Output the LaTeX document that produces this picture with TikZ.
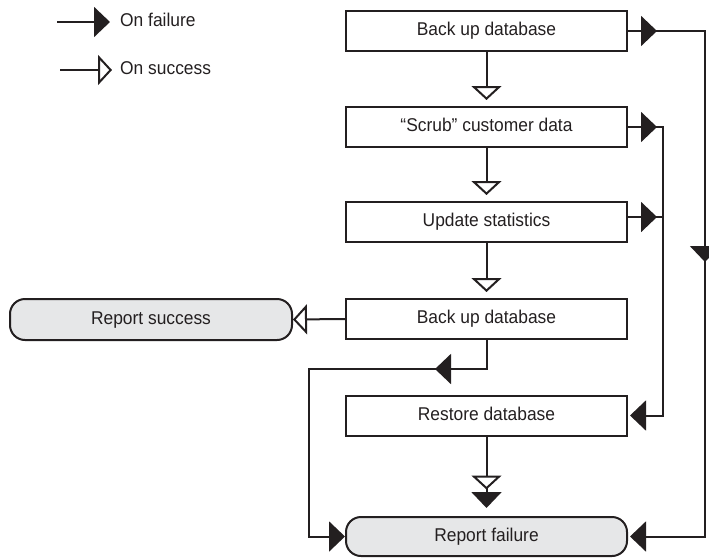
\documentclass[tikz,border=0pt]{standalone}
\usepackage{fontspec}
\setmainfont{Liberation Sans}[FakeStretch=0.94]
\usetikzlibrary{arrows.meta,decorations.markings}
\definecolor{ink}{HTML}{231F20}
\definecolor{pale}{HTML}{E6E7E8}
\tikzset{
  FailTip/.tip={Triangle[length=16pt,width=30pt]},
  OkTip/.tip={Triangle[open,length=14pt,width=30pt,fill=white]},
  every node/.style={font=\fontsize{18.5}{22}\selectfont, text=ink},
  stepbox/.style={draw=ink, line width=2pt, minimum width=281pt, minimum height=40pt,
    inner sep=0pt, text height=13.5pt, text depth=4pt},
  endbox/.style={stepbox, fill=pale, rounded corners=15pt},
  conn/.style={color=ink, line width=2pt},
  failmark/.style={postaction={decorate, decoration={markings,
    mark=at position #1 with {\arrow{FailTip}}}}},
  okmark/.style={postaction={decorate, decoration={markings,
    mark=at position #1 with {\arrow{OkTip}}}}},
  legtext/.style={anchor=west, inner sep=0pt, text height=13.5pt, text depth=4pt}
}
\begin{document}
\begin{tikzpicture}[x=1pt,y=-1pt]
\useasboundingbox (0,0) rectangle (709,557);

% legend
\coordinate (lfA) at (57,22);
\coordinate (lfB) at (110,22);
\coordinate (lsA) at (60,70);
\coordinate (lsB) at (112,70);
\draw[conn,-{FailTip}] (lfA) -- (lfB);
\draw[conn,-{OkTip}] (lsA) -- (lsB);
\node[legtext] (lf) at (120,22) {On failure};
\node[legtext] (ls) at (120,70) {On success};

% boxes
\node[stepbox] (b1) at (486.5,31) {Back up database};
\node[stepbox] (b2) at (486.5,127) {“Scrub” customer data};
\node[stepbox] (b3) at (486.5,222) {Update statistics};
\node[stepbox] (b4) at (486.5,319) {Back up database};
\node[stepbox] (b5) at (486.5,415.5) {Restore database};
\node[endbox, minimum height=39pt] (rf) at (486.5,536.5) {Report failure};
\node[endbox, minimum width=282pt, minimum height=41pt] (rs) at (151,319.5) {Report success};

% rails
\coordinate (railA) at (663,0);
\coordinate (railB) at (705,0);
\coordinate (railC) at (309,369);

% success arrows
\draw[conn,-{OkTip},shorten >=6pt] (b1.south) -- (b2.north);
\draw[conn,-{OkTip},shorten >=6pt] (b2.south) -- (b3.north);
\draw[conn,-{OkTip},shorten >=6pt] (b3.south) -- (b4.north);
\draw[conn,-{OkTip}] (b4.west) -- (rs.east);
\draw[conn,-{FailTip},shorten >=8pt,okmark=53pt] (b5.south) -- (rf.north);

% failure arrows
\draw[conn,failmark=29pt,failmark=308pt,-{FailTip},shorten >=2pt]
  (b1.east) -- (b1.east -| railB) -- (railB |- rf.east) -- (rf.east);
\draw[conn,failmark=29pt,-{FailTip},shorten >=2pt]
  (b2.east) -- (b2.east -| railA) -- (railA |- b5.east) -- (b5.east);
\draw[conn,failmark=29pt]
  ([yshift=5pt]b3.east) -- ([yshift=5pt]b3.east -| railA);
\draw[conn,failmark=80.5pt,-{FailTip}]
  (b4.south) -- (b4.south |- railC) -- (railC) -- (railC |- rf.west) -- (rf.west);
\end{tikzpicture}
\end{document}
